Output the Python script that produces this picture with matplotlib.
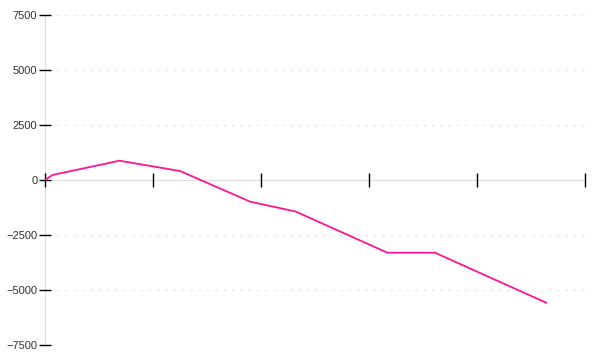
import numpy as np
import matplotlib
matplotlib.use('Agg')
import matplotlib.pyplot as plt

plt.rcParams['font.family'] = ['Liberation Sans', 'DejaVu Sans']

# values
x_vals = [0, 7, 69, 125, 190, 232, 317, 361, 464]
y_vals = [0, 230, 877, 409, -986, -1432, -3304, -3304, -5577]
x_ticks = [0, 100, 200, 300, 400, 500]
y_ticks = [-7500, -5000, -2500, 0, 2500, 5000, 7500]

fig = plt.figure(figsize=(6, 3.6), dpi=100)
ax = fig.add_axes([0.075, 0.0417, 0.9, 0.9166])

ax.plot(x_vals, y_vals, color='#ff1493', linewidth=1.3, zorder=3)

ax.set_xlim(0, 500)
ax.set_ylim(-7500, 7500)
ax.set_xticks(x_ticks)
ax.set_xticklabels([])
ax.set_yticks(y_ticks)
ax.set_yticklabels([str(v).replace('-', '\u2212') for v in y_ticks])

# dotted horizontal grid, skip zero (axis line sits there)
for v in y_ticks:
    if v != 0:
        ax.axhline(v, xmin=0.006, color='#e8e8e8', linewidth=1,
                   linestyle=(0, (2, 4)), zorder=1)

ax.spines['top'].set_visible(False)
ax.spines['right'].set_visible(False)
ax.spines['left'].set_color('#dddddd')
ax.spines['left'].set_zorder(0.5)
ax.spines['bottom'].set_color('#dddddd')
ax.spines['bottom'].set_position(('data', 0))
ax.spines['bottom'].set_zorder(0.6)

ax.tick_params(axis='x', direction='inout', length=10, width=1, color='black')
ax.tick_params(axis='y', direction='inout', length=9, width=1, color='black',
               labelsize=8, labelcolor='#333333', pad=1)

fig.savefig('out.png', dpi=100)
